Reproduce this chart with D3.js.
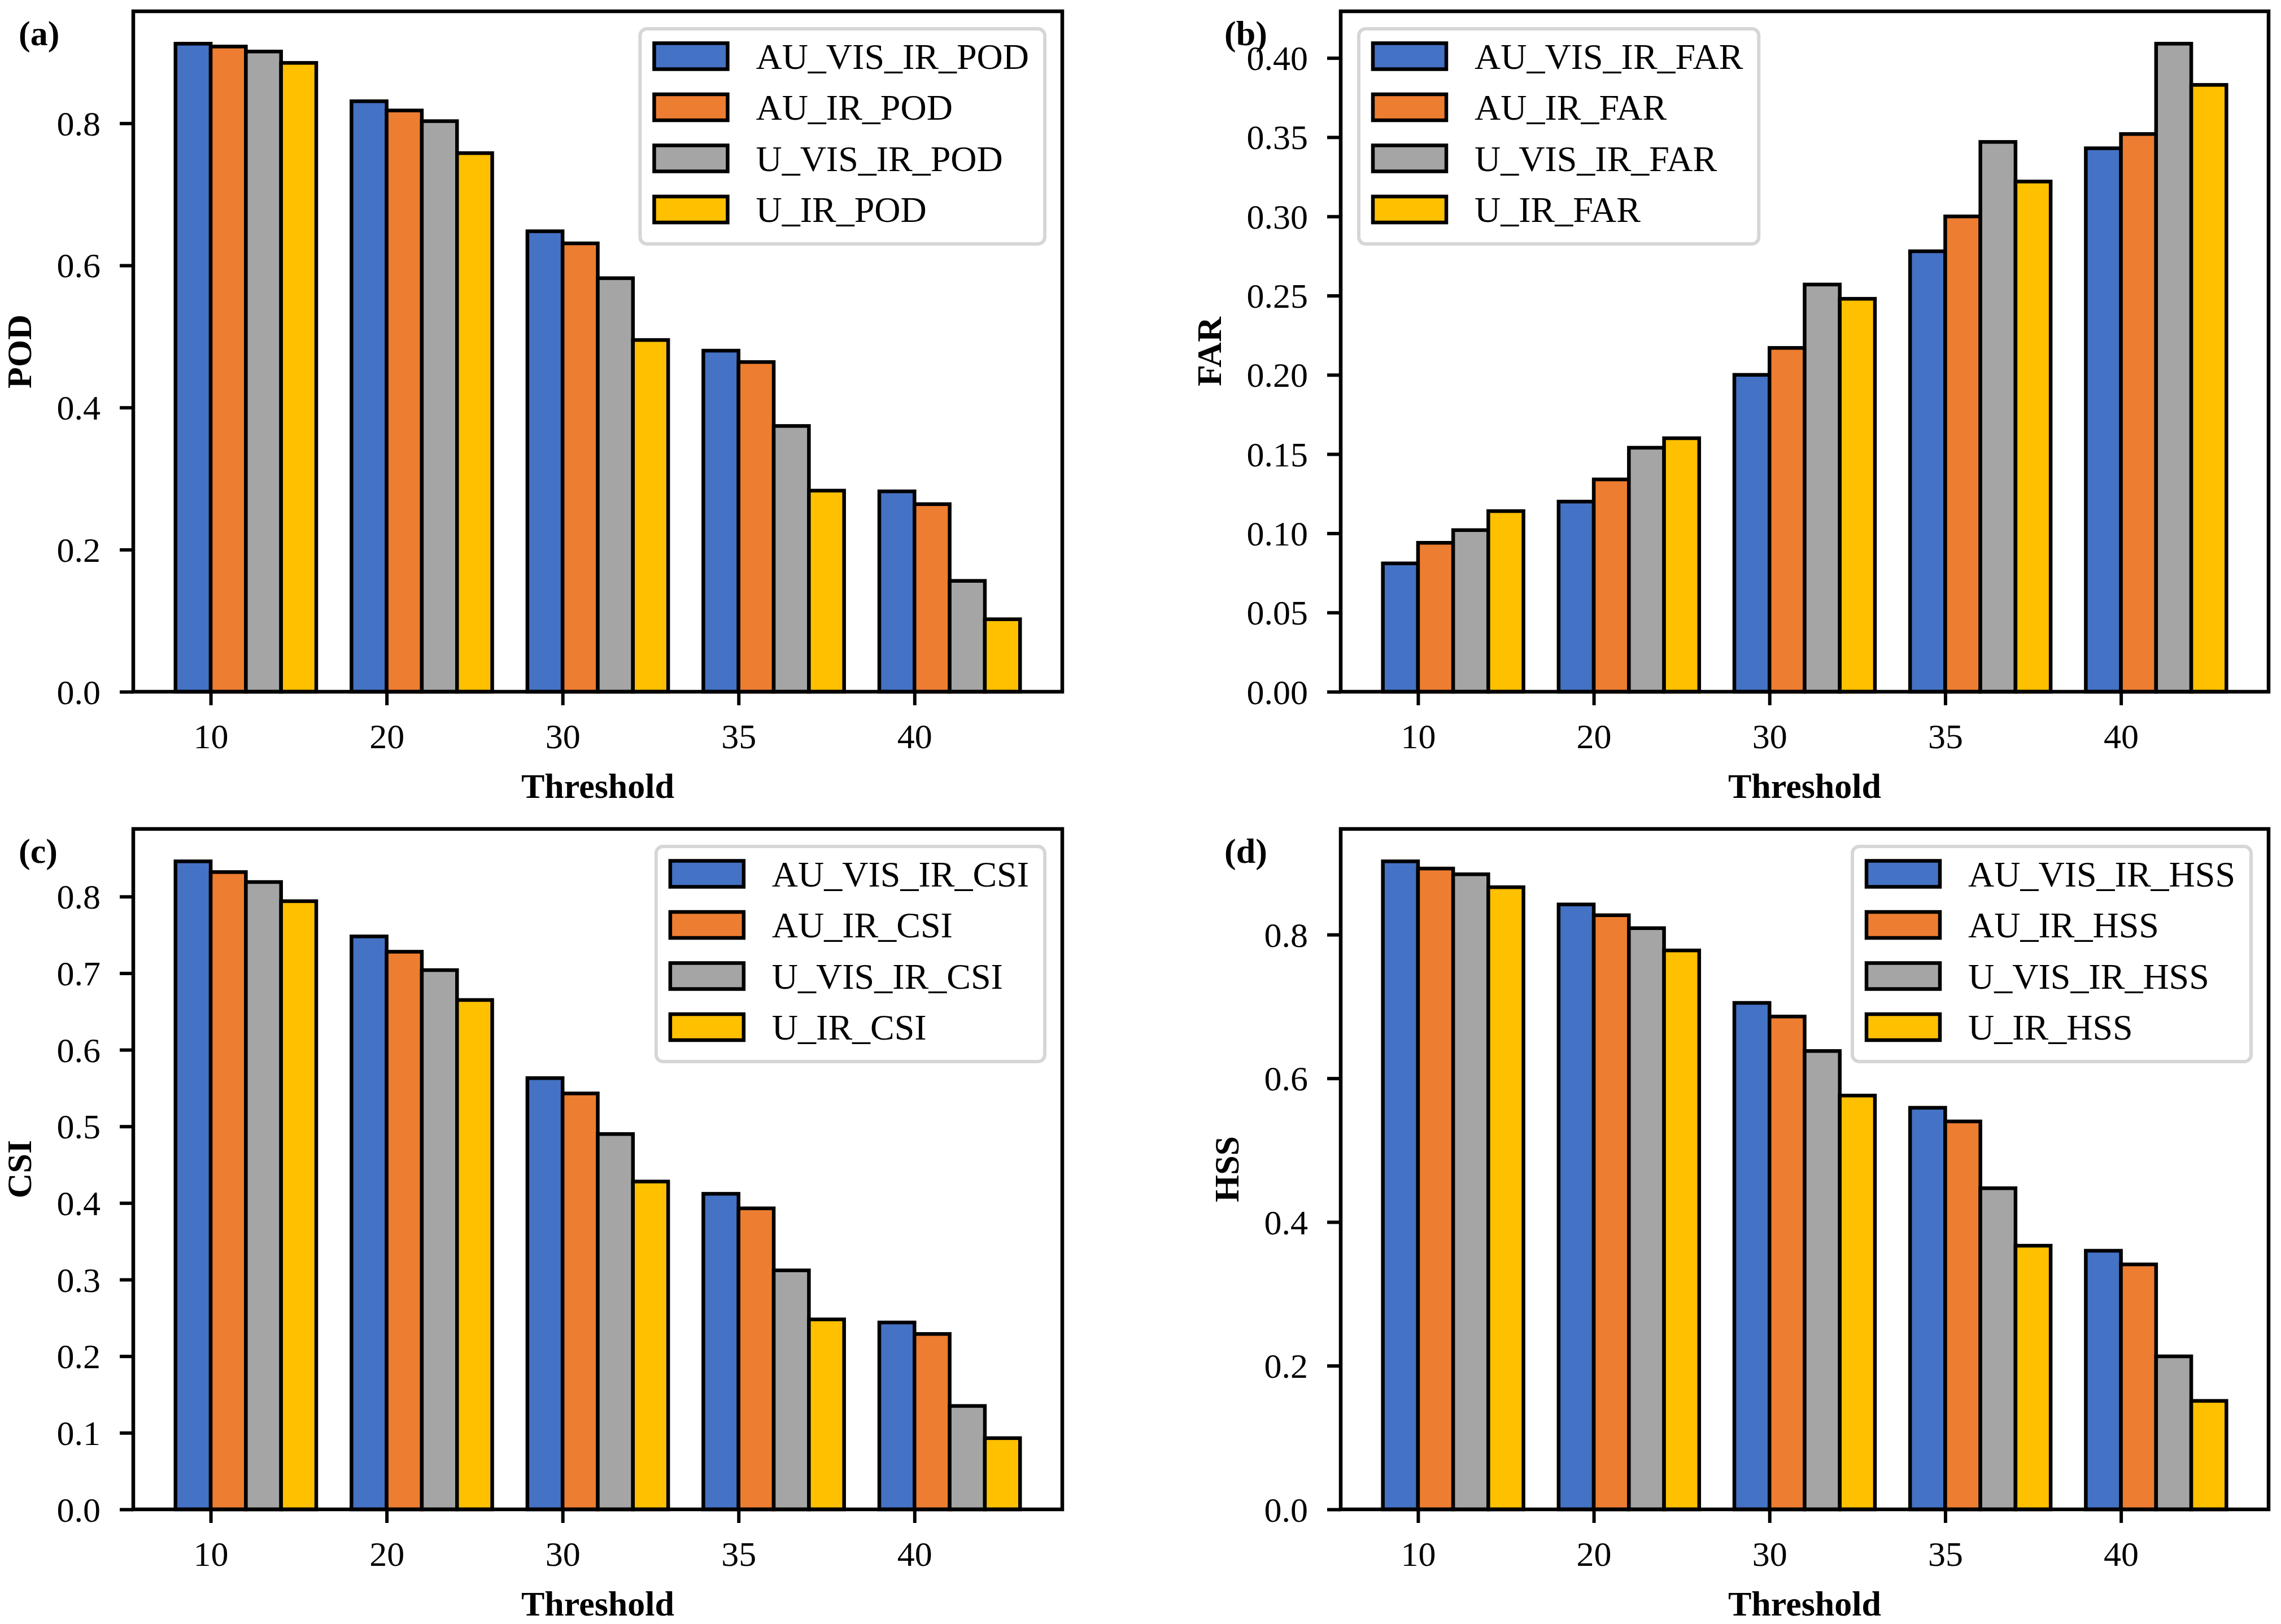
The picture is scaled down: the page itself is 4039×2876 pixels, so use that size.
<!DOCTYPE html>
<html>
<head>
<meta charset="utf-8">
<script src="https://cdn.jsdelivr.net/npm/d3@7"></script>
<style>
  body { margin: 0; background: #fff; }
  svg { display: block; }
</style>
</head>
<body>
<svg id="chart"></svg>
<script>
const thresholds = ["10", "20", "30", "35", "40"];
const seriesPrefixes = ["AU_VIS_IR", "AU_IR", "U_VIS_IR", "U_IR"];
const seriesColors = ["#4472C4", "#ED7D31", "#A5A5A5", "#FFC000"];

// POD
const podAuVisIr = [0.912, 0.831, 0.648, 0.480, 0.282];
const podAuIr    = [0.908, 0.818, 0.631, 0.464, 0.264];
const podUVisIr  = [0.901, 0.803, 0.582, 0.374, 0.156];
const podUIr     = [0.885, 0.758, 0.495, 0.283, 0.102];
const podTicks   = [0.0, 0.2, 0.4, 0.6, 0.8];

// FAR
const farAuVisIr = [0.081, 0.120, 0.200, 0.278, 0.343];
const farAuIr    = [0.094, 0.134, 0.217, 0.300, 0.352];
const farUVisIr  = [0.102, 0.154, 0.257, 0.347, 0.409];
const farUIr     = [0.114, 0.160, 0.248, 0.322, 0.383];
const farTicks   = [0.00, 0.05, 0.10, 0.15, 0.20, 0.25, 0.30, 0.35, 0.40];

// CSI
const csiAuVisIr = [0.846, 0.748, 0.563, 0.412, 0.244];
const csiAuIr    = [0.832, 0.728, 0.543, 0.393, 0.229];
const csiUVisIr  = [0.819, 0.704, 0.490, 0.312, 0.135];
const csiUIr     = [0.794, 0.665, 0.428, 0.248, 0.093];
const csiTicks   = [0.0, 0.1, 0.2, 0.3, 0.4, 0.5, 0.6, 0.7, 0.8];

// HSS
const hssAuVisIr = [0.902, 0.842, 0.705, 0.559, 0.360];
const hssAuIr    = [0.892, 0.827, 0.686, 0.540, 0.341];
const hssUVisIr  = [0.884, 0.809, 0.638, 0.447, 0.213];
const hssUIr     = [0.866, 0.778, 0.576, 0.367, 0.151];
const hssTicks   = [0.0, 0.2, 0.4, 0.6, 0.8];

const panels = [
  { tag: "(a)", metric: "POD", values: [podAuVisIr, podAuIr, podUVisIr, podUIr], ticks: podTicks, fmt: ".1f", legend: "right", col: 0, row: 0 },
  { tag: "(b)", metric: "FAR", values: [farAuVisIr, farAuIr, farUVisIr, farUIr], ticks: farTicks, fmt: ".2f", legend: "left", col: 1, row: 0 },
  { tag: "(c)", metric: "CSI", values: [csiAuVisIr, csiAuIr, csiUVisIr, csiUIr], ticks: csiTicks, fmt: ".1f", legend: "right", col: 0, row: 1 },
  { tag: "(d)", metric: "HSS", values: [hssAuVisIr, hssAuIr, hssUVisIr, hssUIr], ticks: hssTicks, fmt: ".1f", legend: "right", col: 1, row: 1 }
];

const W = 4039, H = 2876;
const FONT = "'Liberation Serif', 'Times New Roman', serif";
const FS = 62;       // ticks and axis labels
const LEG_FS = 64;   // legend text
const LW = 6.5;
const colLeft = [236, 2374], colRight = [1881, 4017];
const rowTop = [20, 1468], rowBottom = [1225, 2673];

const svg = d3.select("#chart")
  .attr("width", W)
  .attr("height", H)
  .attr("viewBox", `0 0 ${W} ${H}`);

svg.append("rect").attr("width", W).attr("height", H).attr("fill", "#fff");

panels.forEach(p => drawPanel(p));

function drawPanel(p) {
  const left = colLeft[p.col], right = colRight[p.col];
  const top = rowTop[p.row], bottom = rowBottom[p.row];

  const x = d3.scaleLinear().domain([-0.44, 4.84]).range([left, right]);
  const yMax = d3.max(p.values, v => d3.max(v)) * 1.05;
  const y = d3.scaleLinear().domain([0, yMax]).range([bottom, top]);

  const g = svg.append("g");

  // bars, four per threshold, 0.2 wide each
  p.values.forEach((vals, s) => {
    g.append("g").selectAll("rect")
      .data(vals)
      .enter()
      .append("rect")
      .attr("x", (d, i) => x(i - 0.2 + 0.2 * s))
      .attr("width", (d, i) => x(i + 0.2 * s) - x(i - 0.2 + 0.2 * s))
      .attr("y", d => y(d))
      .attr("height", d => y(0) - y(d))
      .attr("fill", seriesColors[s])
      .attr("stroke", "#000")
      .attr("stroke-width", LW);
  });

  // x axis
  const xAxis = g.append("g")
    .attr("transform", `translate(0,${bottom})`)
    .call(d3.axisBottom(x)
      .tickValues(d3.range(thresholds.length))
      .tickFormat(i => thresholds[i])
      .tickSize(24)
      .tickSizeOuter(0));
  xAxis.select(".domain").remove();
  xAxis.selectAll(".tick line").attr("stroke", "#000").attr("stroke-width", 6);
  xAxis.selectAll(".tick text")
    .attr("y", 100).attr("dy", 0)
    .attr("font-family", FONT).attr("font-size", FS).attr("fill", "#000");

  // y axis
  const yAxis = g.append("g")
    .attr("transform", `translate(${left},0)`)
    .call(d3.axisLeft(y)
      .tickValues(p.ticks)
      .tickFormat(d3.format(p.fmt))
      .tickSize(24)
      .tickSizeOuter(0));
  yAxis.select(".domain").remove();
  yAxis.selectAll(".tick line").attr("stroke", "#000").attr("stroke-width", 6);
  yAxis.selectAll(".tick text")
    .attr("x", -58).attr("dy", 21)
    .attr("font-family", FONT).attr("font-size", FS).attr("fill", "#000");

  // frame
  g.append("rect")
    .attr("x", left).attr("y", top)
    .attr("width", right - left).attr("height", bottom - top)
    .attr("fill", "none").attr("stroke", "#000").attr("stroke-width", LW);

  // axis labels
  const tickLeft = yAxis.node().getBBox().x + left;
  g.append("text")
    .attr("transform", `translate(${tickLeft - 46},${(top + bottom) / 2}) rotate(-90)`)
    .attr("text-anchor", "middle")
    .attr("font-family", FONT).attr("font-size", FS).attr("font-weight", "bold")
    .text(p.metric);

  g.append("text")
    .attr("x", (left + right) / 2).attr("y", bottom + 188)
    .attr("text-anchor", "middle")
    .attr("font-family", FONT).attr("font-size", FS).attr("font-weight", "bold")
    .text("Threshold");

  // panel tag
  g.append("text")
    .attr("x", p.col === 0 ? 33 : 2168).attr("y", top + 60)
    .attr("font-family", FONT).attr("font-size", FS).attr("font-weight", "bold")
    .text(p.tag);

  // legend
  const lg = g.append("g");
  const frame = lg.append("rect");
  const items = lg.selectAll(".item")
    .data(seriesPrefixes)
    .enter()
    .append("g")
    .attr("transform", (d, i) => `translate(0,${48.5 + i * 90.5})`);
  items.append("rect")
    .attr("x", 25).attr("y", -23)
    .attr("width", 130).attr("height", 46)
    .attr("fill", (d, i) => seriesColors[i])
    .attr("stroke", "#000").attr("stroke-width", LW);
  const labels = items.append("text")
    .attr("x", 205).attr("y", 22)
    .attr("font-family", FONT).attr("font-size", LEG_FS)
    .text(d => `${d}_${p.metric}`);
  let maxW = 0;
  labels.each(function () { maxW = Math.max(maxW, this.getComputedTextLength()); });
  const boxW = 205 + maxW + 28, boxH = 381;
  frame.attr("width", boxW).attr("height", boxH)
    .attr("rx", 12).attr("ry", 12)
    .attr("fill", "#fff").attr("fill-opacity", 0.8)
    .attr("stroke", "#d6d6d6").attr("stroke-width", 6);
  const lx = p.legend === "right" ? right - 31 - boxW : left + 32;
  lg.attr("transform", `translate(${lx},${top + 31})`);
}
</script>
</body>
</html>
